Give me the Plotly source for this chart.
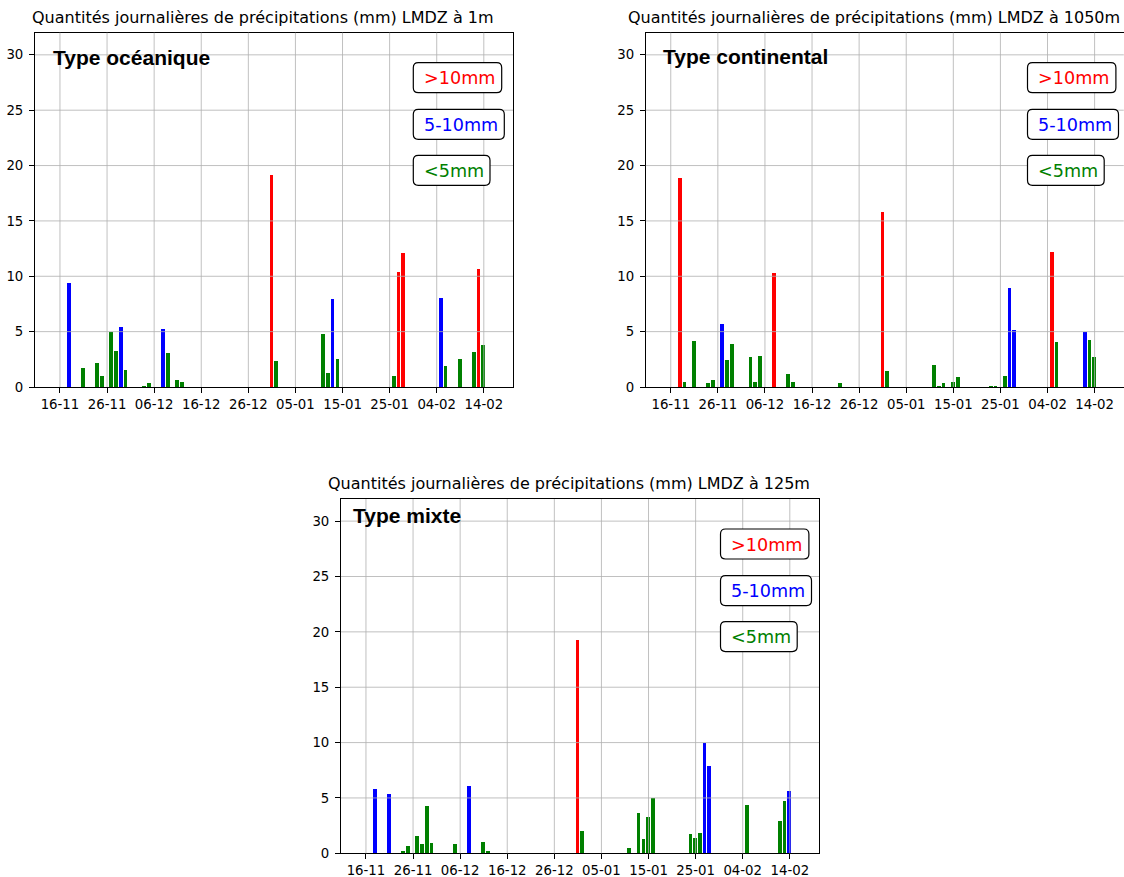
import plotly.graph_objects as go
import pandas as pd

W, H = 1124, 877

# ---------------- data ----------------
oce_dates = ["2019-11-17", "2019-11-20", "2019-11-23", "2019-11-24", "2019-11-26", "2019-11-27",
             "2019-11-28", "2019-11-29", "2019-12-03", "2019-12-04", "2019-12-07", "2019-12-08",
             "2019-12-10", "2019-12-11", "2019-12-30", "2019-12-31", "2020-01-10", "2020-01-11",
             "2020-01-12", "2020-01-13", "2020-01-25", "2020-01-26", "2020-01-27", "2020-02-04",
             "2020-02-05", "2020-02-08", "2020-02-11", "2020-02-12", "2020-02-13"]
oce_vals = [9.4, 1.7, 2.2, 1.0, 4.95, 3.3,
            5.45, 1.55, 0.1, 0.35, 5.25, 3.1,
            0.65, 0.5, 19.2, 2.4, 4.85, 1.3,
            8.0, 2.6, 1.0, 10.4, 12.15, 8.05,
            1.9, 2.6, 3.2, 10.7, 3.8]

con_dates = ["2019-11-17", "2019-11-18", "2019-11-20", "2019-11-23", "2019-11-24", "2019-11-26",
             "2019-11-27", "2019-11-28", "2019-12-02", "2019-12-03", "2019-12-04", "2019-12-07",
             "2019-12-10", "2019-12-11", "2019-12-21", "2019-12-30", "2019-12-31", "2020-01-10",
             "2020-01-11", "2020-01-12", "2020-01-14", "2020-01-15", "2020-01-22", "2020-01-23",
             "2020-01-25", "2020-01-26", "2020-01-27", "2020-02-04", "2020-02-05", "2020-02-11",
             "2020-02-12", "2020-02-13"]
con_vals = [18.9, 0.5, 4.2, 0.35, 0.7, 5.75,
            2.5, 3.9, 2.7, 0.5, 2.8, 10.35,
            1.2, 0.5, 0.35, 15.8, 1.5, 2.0,
            0.1, 0.35, 0.5, 0.9, 0.06, 0.06,
            1.05, 8.95, 5.15, 12.25, 4.1, 5.0,
            4.25, 2.7]

mix_dates = ["2019-11-17", "2019-11-20", "2019-11-23", "2019-11-24", "2019-11-26", "2019-11-27",
             "2019-11-28", "2019-11-29", "2019-12-04", "2019-12-07", "2019-12-10", "2019-12-11",
             "2019-12-30", "2019-12-31", "2020-01-10", "2020-01-12", "2020-01-13", "2020-01-14",
             "2020-01-15", "2020-01-23", "2020-01-24", "2020-01-25", "2020-01-26", "2020-01-27",
             "2020-02-04", "2020-02-11", "2020-02-12", "2020-02-13"]
mix_vals = [5.85, 5.35, 0.2, 0.65, 1.6, 0.8,
            4.3, 0.9, 0.8, 6.05, 1.0, 0.2,
            19.3, 2.05, 0.5, 3.6, 1.25, 3.25,
            4.97, 1.7, 1.35, 1.85, 9.95, 7.85,
            4.35, 2.9, 4.7, 5.6]

titles = ["Quantités journalières de précipitations (mm) LMDZ à 1m",
          "Quantités journalières de précipitations (mm) LMDZ à 1050m",
          "Quantités journalières de précipitations (mm) LMDZ à 125m"]
type_labels = ["Type océanique", "Type continental", "Type mixte"]
class_labels = [">10mm", "5-10mm", "<5mm"]
class_colors = ["#ff0000", "#0000ff", "#008000"]
tick_dates = ["2019-11-16", "2019-11-26", "2019-12-06", "2019-12-16", "2019-12-26",
              "2020-01-05", "2020-01-15", "2020-01-25", "2020-02-04", "2020-02-14"]
y_ticks = [0, 5, 10, 15, 20, 25, 30]
x_range = ["2019-11-10 16:48", "2020-02-20 04:48"]
y_range = [0, 32]

series = [(oce_dates, oce_vals), (con_dates, con_vals), (mix_dates, mix_vals)]

# ---------------- layout geometry (pixels) ----------------
panels = [(35.0, 32.7, 513.0, 387.0), (645.8, 32.7, 1123.8, 387.0), (341.0, 499.0, 819.0, 853.3)]
label_pos = [(51.7, 57.2), (662.3, 56.2), (351.7, 515.5)]
box_left = [413.3, 1027.5, 720.5]
box_w = [88.4, 91.0, 76.7]
box_top = [30.0, 76.6, 122.6]
box_h = 30.0


def px(x):
    return min(1.0, max(0.0, x / W))


def py(y):
    return min(1.0, max(0.0, 1 - y / H))


def color_for(v):
    if v > 10:
        return class_colors[0]
    if v >= 5:
        return class_colors[1]
    return class_colors[2]


def rrect(x0, y0, x1, y1, r=5):
    pts = [
        ("M", [(x0 + r, y0)]), ("L", [(x1 - r, y0)]), ("Q", [(x1, y0), (x1, y0 + r)]),
        ("L", [(x1, y1 - r)]), ("Q", [(x1, y1), (x1 - r, y1)]), ("L", [(x0 + r, y1)]),
        ("Q", [(x0, y1), (x0, y1 - r)]), ("L", [(x0, y0 + r)]), ("Q", [(x0, y0), (x0 + r, y0)]),
    ]
    s = ""
    for cmd, ps in pts:
        s += cmd + " " + " ".join(f"{px(a):.6f},{py(b):.6f}" for a, b in ps) + " "
    return s + "Z"


fig = go.Figure()
shapes = []
annotations = []
layout = {}
day_ms = 86400000
tick_font = dict(family="DejaVu Sans", size=13.3, color="black")

for i, ((dates, vals), (L, T, R, B)) in enumerate(zip(series, panels)):
    n = "" if i == 0 else str(i + 1)
    xa, ya = "x" + n, "y" + n
    xs = pd.to_datetime(dates) + pd.Timedelta(hours=21.6)
    fig.add_trace(go.Bar(
        x=xs, y=vals, width=0.78 * day_ms,
        marker=dict(color=[color_for(v) for v in vals], line=dict(width=0)),
        xaxis=xa, yaxis=ya, showlegend=False,
    ))
    layout["xaxis" + n] = dict(
        domain=[px(L), px(R)], anchor=ya, type="date", range=x_range, automargin=False,
        tickvals=tick_dates, tickformat="%d-%m", showgrid=False, zeroline=False,
        showline=True, mirror=True, linecolor="black", linewidth=1,
        ticks="outside", ticklen=5, tickwidth=1, tickcolor="black", tickfont=tick_font,
    )
    layout["yaxis" + n] = dict(
        domain=[py(B), py(T)], anchor=xa, range=y_range, tickvals=y_ticks, automargin=False,
        showgrid=False, zeroline=False,
        showline=True, mirror=True, linecolor="black", linewidth=1,
        ticks="outside", ticklen=5, tickwidth=1, tickcolor="black", tickfont=tick_font,
        ticklabelstandoff=3,
    )
    # gridlines drawn above bars (matplotlib default)
    for d in tick_dates:
        shapes.append(dict(type="line", xref=xa, yref=ya + " domain", x0=d, x1=d, y0=0, y1=1,
                           line=dict(color="#b0b0b0", width=0.8), layer="above"))
    for v in y_ticks[1:]:
        shapes.append(dict(type="line", xref=xa + " domain", yref=ya, x0=0, x1=1, y0=v, y1=v,
                           line=dict(color="#b0b0b0", width=0.8), layer="above"))
    # class boxes
    for k in range(3):
        x0 = box_left[i]
        y0 = T + box_top[k]
        shapes.append(dict(type="path", xref="paper", yref="paper",
                           path=rrect(x0, y0, x0 + box_w[k], y0 + box_h, 5),
                           fillcolor="white", line=dict(color="black", width=1.2), layer="above"))
        annotations.append(dict(xref="paper", yref="paper", x=px(x0 + 8.4), y=py(y0 + box_h / 2 + 0.5),
                                xanchor="left", yanchor="middle", showarrow=False, text=class_labels[k],
                                font=dict(family="DejaVu Sans", size=17.6, color=class_colors[k])))
    # title
    annotations.append(dict(xref="paper", yref="paper", x=px((L + R) / 2 - 11), y=py(T - 15.5),
                            xanchor="center", yanchor="middle", showarrow=False, text=titles[i],
                            font=dict(family="DejaVu Sans", size=16, color="black")))
    # type label
    lx, ly = label_pos[i]
    annotations.append(dict(xref="paper", yref="paper", x=px(lx - 1), y=py(ly),
                            xanchor="left", yanchor="middle", showarrow=False,
                            text="<b>" + type_labels[i] + "</b>",
                            font=dict(family="Liberation Sans", size=21, color="black")))

fig.update_layout(
    width=W, height=H, margin=dict(l=0, r=0, t=0, b=0, autoexpand=False),
    paper_bgcolor="white", plot_bgcolor="white",
    shapes=shapes, annotations=annotations, bargap=0,
    **layout,
)
fig.write_html("out.html")
